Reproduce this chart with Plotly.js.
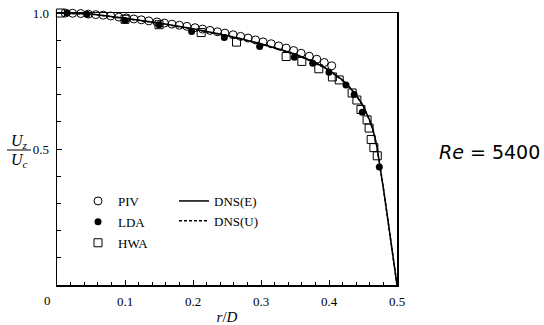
<!DOCTYPE html>
<html>
<head>
<meta charset="utf-8">
<script src="https://cdn.plot.ly/plotly-3.0.1.min.js"></script>
<style>html,body{margin:0;padding:0;background:#fff;}#chart{width:544px;height:325px;}</style>
</head>
<body>
<div id="chart"></div>
<script>
// ---- data ----
const pivR = [0.012,0.023,0.035,0.046,0.057,0.068,0.079,0.091,0.102,0.113,0.124,0.135,0.147,0.158,0.169,0.180,0.191,0.203,0.214,0.225,0.236,0.247,0.259,0.270,0.281,0.292,0.303,0.315,0.326,0.337,0.348,0.359,0.371,0.382,0.393,0.404];
const pivU = [1.000,0.999,0.998,0.996,0.994,0.992,0.989,0.985,0.982,0.978,0.975,0.971,0.967,0.963,0.959,0.955,0.951,0.946,0.941,0.936,0.931,0.926,0.920,0.914,0.908,0.901,0.894,0.887,0.879,0.871,0.862,0.852,0.841,0.830,0.818,0.806];

const ldaR = [0.015,0.044,0.100,0.150,0.198,0.246,0.298,0.349,0.376,0.400,0.425,0.437,0.449,0.474];
const ldaU = [1.000,0.995,0.972,0.957,0.932,0.910,0.877,0.837,0.815,0.782,0.735,0.700,0.635,0.434];

const hwaR = [0.005,0.100,0.150,0.212,0.264,0.337,0.360,0.385,0.405,0.415,0.434,0.441,0.447,0.456,0.459,0.462,0.466,0.471];
const hwaU = [1.000,0.977,0.957,0.928,0.893,0.840,0.822,0.795,0.765,0.754,0.706,0.680,0.645,0.607,0.577,0.535,0.505,0.475];

const dnsER = [0,0.05,0.10,0.15,0.20,0.25,0.30,0.35,0.38,0.40,0.42,0.43,0.44,0.45,0.46,0.465,0.47,0.475,0.48,0.485,0.49,0.495,0.50];
const dnsEU = [1.0,0.996,0.981,0.963,0.942,0.917,0.887,0.849,0.818,0.790,0.753,0.728,0.698,0.660,0.605,0.568,0.515,0.440,0.355,0.268,0.180,0.090,0.0];
const dnsUR = [0,0.05,0.10,0.15,0.20,0.25,0.30,0.35,0.38,0.40,0.42,0.43,0.44,0.45,0.46,0.465,0.47,0.475,0.48,0.485,0.49,0.495,0.50];
const dnsUU = [1.0,0.996,0.980,0.962,0.941,0.916,0.886,0.848,0.817,0.789,0.752,0.727,0.697,0.659,0.604,0.567,0.514,0.439,0.354,0.267,0.179,0.089,0.0];

const xTickVals = [0.1,0.2,0.3,0.4,0.5];
const xTickText = ['0.1','0.2','0.3','0.4','0.5'];
const yTickVals = [0.5,1.0];
const yTickText = ['0.5','1.0'];

const serif = 'Liberation Serif, Times New Roman, serif';

const traces = [
  {x: dnsUR, y: dnsUU, name: 'DNS(U)', mode: 'lines', line: {color: '#000', width: 1.5, dash: '3px,2px'}, legend: 'legend2', legendrank: 2},
  {x: dnsER, y: dnsEU, name: 'DNS(E)', mode: 'lines', line: {color: '#000', width: 1.5}, legend: 'legend2', legendrank: 1},
  {x: hwaR, y: hwaU, name: 'HWA', mode: 'markers', marker: {symbol: 'square-open', size: 8, color: '#000', line: {width: 1}}, cliponaxis: false, legendrank: 3, legendgroup: 'c'},
  {x: ldaR, y: ldaU, name: 'LDA', mode: 'markers', marker: {symbol: 'circle', size: 7, color: '#000'}, cliponaxis: false, legendrank: 2, legendgroup: 'b'},
  {x: pivR, y: pivU, name: 'PIV', mode: 'markers', marker: {symbol: 'circle-open', size: 8, color: '#000', line: {width: 1}}, cliponaxis: false, legendrank: 1, legendgroup: 'a'}
];

const W = 340, H = 272, L = 57, T = 13;
const px = (x) => (x - L) / W;
const py = (y) => (T + H - y) / H;

const layout = {
  width: 544, height: 325,
  margin: {l: L, r: 544 - L - W, t: T, b: 325 - T - H},
  paper_bgcolor: '#fff', plot_bgcolor: '#fff',
  showlegend: true,
  font: {family: serif, size: 13, color: '#000'},
  xaxis: {
    range: [0, 0.5], showgrid: false, zeroline: false,
    showline: true, linecolor: '#000', linewidth: 1.5, mirror: true,
    ticks: 'inside', ticklen: 5, tickwidth: 1, tickcolor: '#000',
    tickmode: 'array', tickvals: xTickVals, ticktext: xTickText,
    ticklabelstandoff: 4,
    tickfont: {family: serif, size: 13},
    minor: {tickmode: 'linear', tick0: 0, dtick: 0.02, ticks: 'inside', ticklen: 3, tickcolor: '#000', showgrid: false},
    title: {text: '<i>r</i>/<i>D</i>', font: {family: serif, size: 15}, standoff: 6}
  },
  yaxis: {
    range: [0, 1], showgrid: false, zeroline: false,
    showline: true, linecolor: '#000', linewidth: 1.5, mirror: true,
    ticks: 'inside', ticklen: 5, tickwidth: 1, tickcolor: '#000',
    tickmode: 'array', tickvals: yTickVals, ticktext: yTickText,
    ticklabelstandoff: 4,
    tickfont: {family: serif, size: 13},
    minor: {tickmode: 'linear', tick0: 0, dtick: 0.1, ticks: 'inside', ticklen: 4, tickcolor: '#000', showgrid: false}
  },
  legend: {
    x: px(78), y: py(186), xanchor: 'left', yanchor: 'top',
    bgcolor: 'rgba(0,0,0,0)', borderwidth: 0,
    font: {family: serif, size: 13},
    traceorder: 'grouped', tracegroupgap: 1, itemwidth: 30
  },
  legend2: {
    x: px(174), y: py(186), xanchor: 'left', yanchor: 'top',
    bgcolor: 'rgba(0,0,0,0)', borderwidth: 0,
    font: {family: serif, size: 13},
    tracegroupgap: 1, itemwidth: 30
  },
  annotations: [
    {xref: 'paper', yref: 'paper', x: px(47), y: py(300), text: '0', showarrow: false, font: {family: serif, size: 13}, xanchor: 'center', yanchor: 'middle'},
    {xref: 'paper', yref: 'paper', x: px(19), y: py(141), text: '<i>U</i><sub><i>z</i></sub>', showarrow: false, font: {family: serif, size: 16}, xanchor: 'center', yanchor: 'middle'},
    {xref: 'paper', yref: 'paper', x: px(19), y: py(160), text: '<i>U</i><sub><i>c</i></sub>', showarrow: false, font: {family: serif, size: 16}, xanchor: 'center', yanchor: 'middle'},
    {xref: 'paper', yref: 'paper', x: px(489), y: py(152), text: '<i>Re</i> = 5400', showarrow: false, font: {family: 'DejaVu Sans, sans-serif', size: 19}, xanchor: 'center', yanchor: 'middle'}
  ],
  shapes: [
    {type: 'line', xref: 'paper', yref: 'paper', x0: px(7), x1: px(31), y0: py(150), y1: py(150), line: {color: '#000', width: 1}}
  ]
};

Plotly.newPlot('chart', traces, layout, {staticPlot: true, displayModeBar: false});
</script>
</body>
</html>
